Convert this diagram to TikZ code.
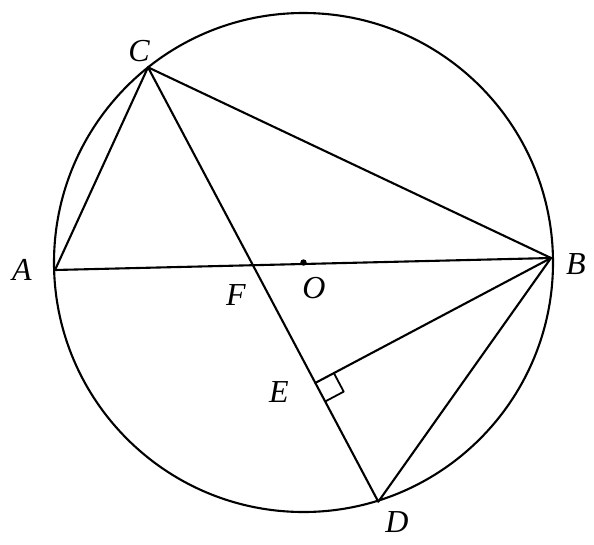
\documentclass[tikz,border=0pt]{standalone}
\usepackage{fontspec}
\setmainfont{Liberation Serif}[ItalicFont={Liberation Serif Italic}]
\newfontfamily\lblfont{Liberation Serif Italic}
\usetikzlibrary{calc}
\begin{document}
\begin{tikzpicture}[x=1pt,y=-1pt,
  geo/.style={line width=2.1pt, line join=round, line cap=round},
  lbl/.style={font=\lblfont\fontsize{32}{32}\selectfont, inner sep=0pt}]
\useasboundingbox (0,0) rectangle (594,544);
% points
\coordinate (O) at (303.5,262.5);
\coordinate (A) at (55,270);
\coordinate (B) at (551,258);
\coordinate (C) at (148,67.3);
\coordinate (D) at (378.3,501.7);
\coordinate (E) at ($(C)!(B)!(D)$);
\coordinate (F) at (intersection of A--B and C--D);
% circle
\draw[geo] (O) circle[radius=249.5];
% segments
\draw[geo] (A) -- (B);
\draw[geo] (C) -- (A);
\draw[geo] (C) -- (B);
\draw[geo] (C) -- (D);
\draw[geo] (B) -- (D);
\draw[geo] (B) -- (E);
% right angle mark
\coordinate (E1) at ($(E)!21pt!(B)$);
\coordinate (E2) at ($(E)!21pt!(D)$);
\draw[geo, line width=1.8pt] (E1) -- ($(E1)+(E2)-(E)$) -- (E2);
% centre dot
\fill (O) circle[radius=3.2];
% labels
\node[lbl] (lA) at (22,270) {A};
\node[lbl] (lB) at (576,264) {B};
\node[lbl] (lC) at (139,51) {C};
\node[lbl] (lD) at (397,522) {D};
\node[lbl] (lE) at (279,392) {E};
\node[lbl] (lF) at (236,295) {F};
\node[lbl] (lO) at (314,288) {O};
\end{tikzpicture}
\end{document}
